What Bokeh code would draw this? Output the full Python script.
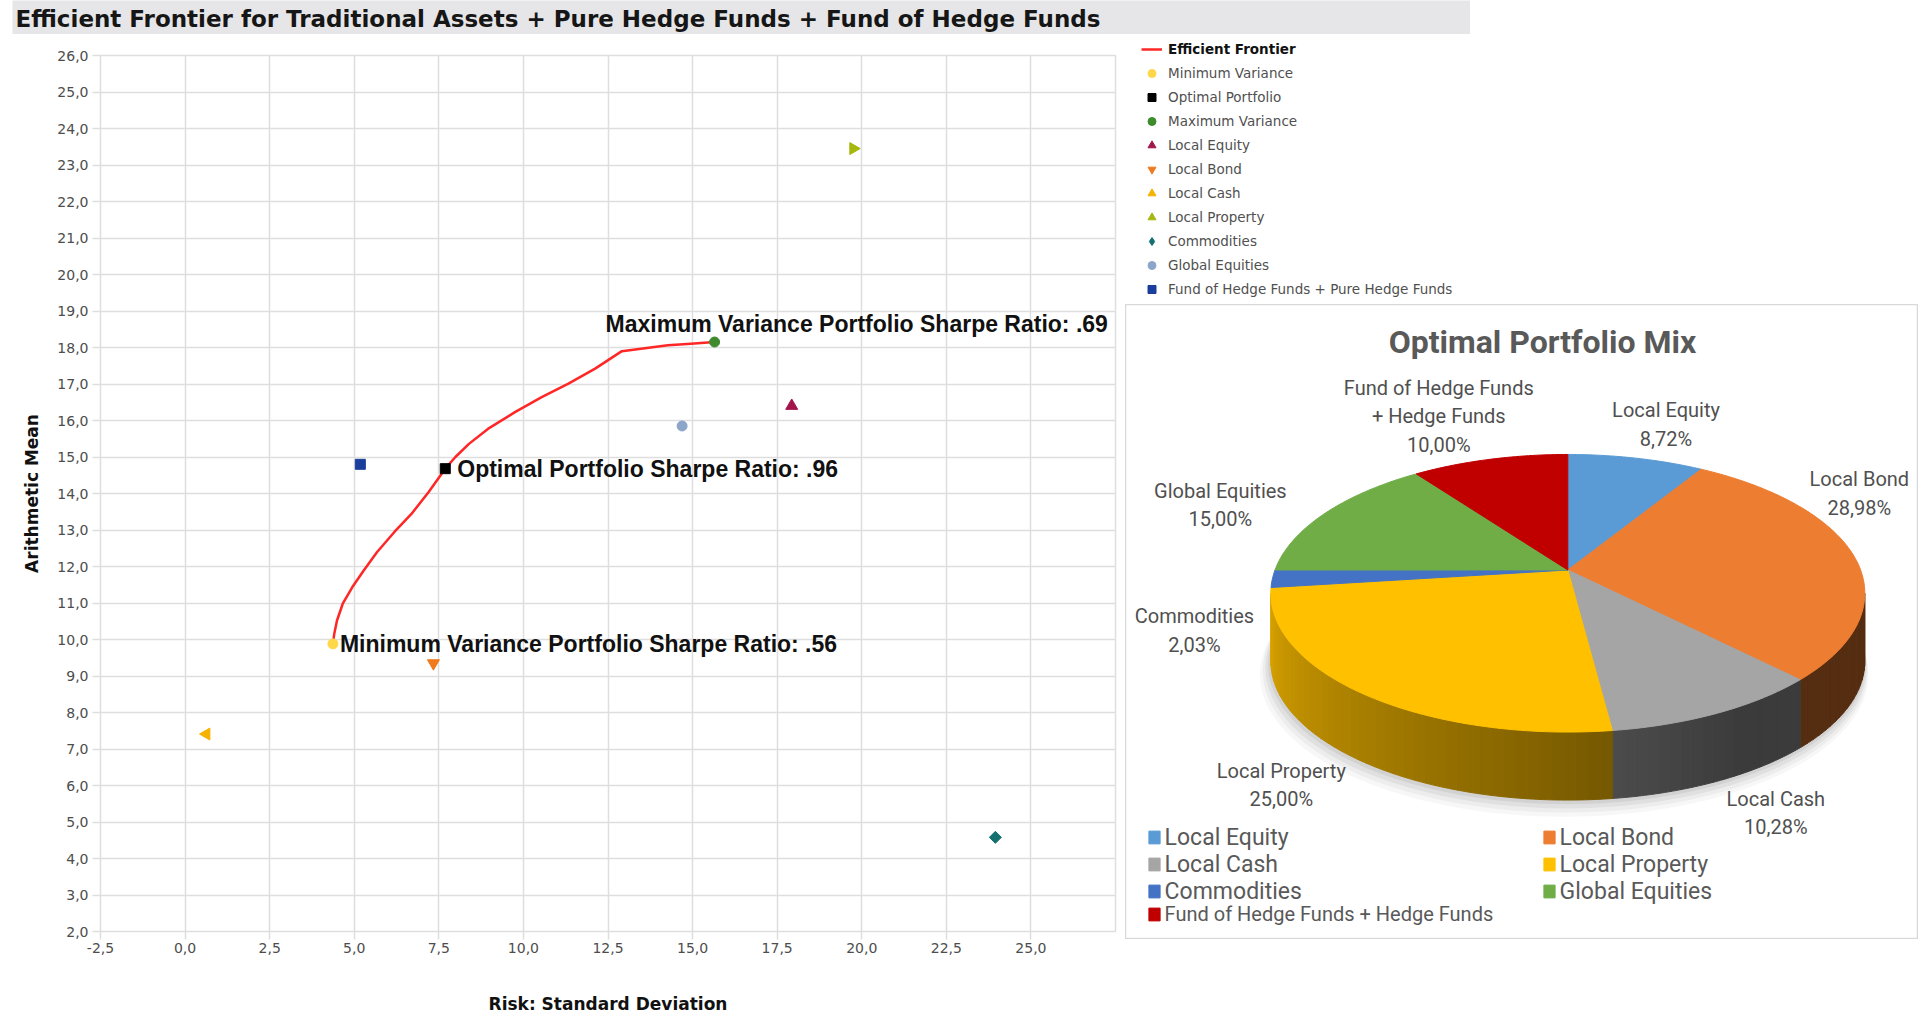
import math
from bokeh.plotting import figure
from bokeh.models import (ColumnDataSource, Legend, LegendItem, Label, Range1d,
                          FixedTicker, CustomJSTickFormatter)
from bokeh.layouts import row, column
from bokeh.embed import file_html
from bokeh.resources import INLINE
from bokeh.core.properties import value

# ---------------- data ----------------
chart_title = "Efficient Frontier for Traditional Assets + Pure Hedge Funds + Fund of Hedge Funds"
x_axis_title = "Risk: Standard Deviation"
y_axis_title = "Arithmetic Mean"

frontier_label = "Efficient Frontier"
frontier_risk = [4.37, 4.41, 4.49, 4.66, 4.94, 5.28, 5.67, 6.18, 6.69, 7.20, 7.69, 7.99,
                 8.39, 8.95, 9.75, 10.54, 11.33, 12.12, 12.91, 13.59, 14.27, 14.95, 15.65]
frontier_return = [9.88, 10.16, 10.52, 10.98, 11.43, 11.89, 12.39, 12.94, 13.44, 14.04, 14.68, 15.00,
                   15.36, 15.77, 16.23, 16.64, 17.01, 17.42, 17.90, 17.98, 18.06, 18.10, 18.15]

portfolio_names = ["Minimum Variance", "Optimal Portfolio", "Maximum Variance"]
portfolio_risk = [4.37, 7.69, 15.65]
portfolio_return = [9.88, 14.68, 18.15]
portfolio_notes = ["Minimum Variance Portfolio Sharpe Ratio: .56",
                   "Optimal Portfolio Sharpe Ratio: .96",
                   "Maximum Variance Portfolio Sharpe Ratio: .69"]

asset_names = ["Local Equity", "Local Bond", "Local Cash", "Local Property", "Commodities",
               "Global Equities", "Fund of Hedge Funds + Pure Hedge Funds"]
asset_risk = [17.93, 7.34, 0.63, 19.75, 23.95, 14.69, 5.18]
asset_return = [16.40, 9.35, 7.41, 23.45, 4.58, 15.85, 14.80]

x_ticks = [-2.5, 0.0, 2.5, 5.0, 7.5, 10.0, 12.5, 15.0, 17.5, 20.0, 22.5, 25.0]
y_ticks = [2.0, 3.0, 4.0, 5.0, 6.0, 7.0, 8.0, 9.0, 10.0, 11.0, 12.0, 13.0, 14.0, 15.0,
           16.0, 17.0, 18.0, 19.0, 20.0, 21.0, 22.0, 23.0, 24.0, 25.0, 26.0]

pie_title = "Optimal Portfolio Mix"
mix_names = ["Local Equity", "Local Bond", "Local Cash", "Local Property", "Commodities",
             "Global Equities", "Fund of Hedge Funds + Hedge Funds"]
mix_share = [8.72, 28.98, 10.28, 25.00, 2.03, 15.00, 10.00]

# ---------------- styles ----------------
GRID = "#dedede"
FRONTIER_COLOR = "#ff2626"
portfolio_style = [dict(marker="circle", color="#ffd84a", size=10, angle=0.0),
                   dict(marker="square", color="#000000", size=10, angle=0.0),
                   dict(marker="circle", color="#3d8b2c", size=10, angle=0.0)]
asset_style = [dict(marker="triangle", color="#a3144b", size=12, angle=0.0),
               dict(marker="inverted_triangle", color="#f07a1e", size=12, angle=0.0),
               dict(marker="triangle", color="#f5b300", size=12, angle=math.pi / 2),
               dict(marker="triangle", color="#a6b70e", size=12, angle=-math.pi / 2),
               dict(marker="square", color="#14706f", size=8.5, angle=math.pi / 4),
               dict(marker="circle", color="#8ca6c9", size=10, angle=0.0),
               dict(marker="square", color="#1b3e9c", size=10, angle=0.0)]
# legend swatch shapes (legend icons are not rotated)
asset_legend_marker = ["triangle", "inverted_triangle", "triangle", "triangle", "diamond",
                       "circle", "square"]
mix_colors = ["#5b9bd5", "#ed7d31", "#a5a5a5", "#ffc000", "#4472c4", "#70ad47", "#c00000"]

# ---------------- title bar ----------------
tf = figure(width=1458, height=34, x_range=Range1d(0, 1), y_range=Range1d(0, 1),
            x_axis_type=None, y_axis_type=None, toolbar_location=None, output_backend="svg",
            min_border=0, background_fill_color="#e6e6e8", border_fill_color="#e6e6e8",
            outline_line_color=None, margin=(0, 0, 0, 12))
tf.add_layout(Label(x=3, y=16, x_units="screen", y_units="screen", text=chart_title,
                    text_baseline="middle", text_font="DejaVu Sans", text_font_style="bold",
                    text_font_size="23px", text_color="#161616"))

# ---------------- scatter ----------------
p = figure(width=1125, height=984, x_range=Range1d(-2.5, 27.5), y_range=Range1d(2, 26),
           output_backend="svg", toolbar_location=None,
           min_border_left=100, min_border_right=10, min_border_top=21, min_border_bottom=87,
           x_axis_label=x_axis_title, y_axis_label=y_axis_title,
           background_fill_color="white", border_fill_color="white",
           outline_line_color=GRID, outline_line_width=1.5)
for ax in (p.xaxis[0], p.yaxis[0]):
    ax.axis_line_color = None
    ax.major_tick_line_color = GRID
    ax.major_tick_line_width = 1.5
    ax.major_tick_out = 8
    ax.major_tick_in = 0
    ax.minor_tick_line_color = None
    ax.major_label_text_font = "DejaVu Sans"
    ax.major_label_text_font_size = "14px"
    ax.major_label_text_color = "#4d4d4d"
    ax.axis_label_text_font = "DejaVu Sans"
    ax.axis_label_text_font_size = "17px"
    ax.axis_label_text_font_style = "bold"
    ax.axis_label_text_color = "#111111"
p.xaxis.ticker = FixedTicker(ticks=x_ticks)
p.yaxis.ticker = FixedTicker(ticks=y_ticks)
fmt = "return tick.toFixed(1).replace('.', ',');"
p.xaxis.formatter = CustomJSTickFormatter(code=fmt)
p.yaxis.formatter = CustomJSTickFormatter(code=fmt)
p.xaxis.major_label_standoff = 3
p.yaxis.major_label_standoff = 4
p.xaxis.axis_label_standoff = 38
p.yaxis.axis_label_standoff = 12
p.grid.grid_line_color = GRID
p.grid.grid_line_width = 1.5

p.line(x=frontier_risk, y=frontier_return, line_color=FRONTIER_COLOR, line_width=2.5,
       line_join="round")
for i, st in enumerate(portfolio_style):
    p.scatter(x=[portfolio_risk[i]], y=[portfolio_return[i]], marker=st["marker"], size=st["size"],
              fill_color=st["color"], line_color=st["color"], angle=st["angle"])
for i, st in enumerate(asset_style):
    p.scatter(x=[asset_risk[i]], y=[asset_return[i]], marker=st["marker"], size=st["size"],
              fill_color=st["color"], line_color=st["color"], angle=st["angle"])

note_offsets = [(7, 0), (12, 0), (-109, 18)]
for i, note in enumerate(portfolio_notes):
    p.add_layout(Label(x=portfolio_risk[i], y=portfolio_return[i], text=note,
                       x_offset=note_offsets[i][0], y_offset=note_offsets[i][1],
                       text_baseline="middle", text_font="Liberation Sans",
                       text_font_style="bold", text_font_size="23px", text_color="#111111"))

# ---------------- scatter legend panel ----------------
lf = figure(width=793, height=270, x_range=Range1d(0, 1), y_range=Range1d(0, 1),
            x_axis_type=None, y_axis_type=None, toolbar_location=None, output_backend="svg",
            min_border=0, outline_line_color=None)
# same series, lying outside this panel's view; only their legend swatches show
r_ef = lf.line(x=frontier_risk, y=frontier_return, line_color=FRONTIER_COLOR, line_width=2.5)
rest_items = []
for i, st in enumerate(portfolio_style):
    r = lf.scatter(x=[portfolio_risk[i]], y=[portfolio_return[i]], marker=st["marker"],
                   size=st["size"], fill_color=st["color"], line_color=st["color"])
    rest_items.append(LegendItem(label=portfolio_names[i], renderers=[r]))
for i, st in enumerate(asset_style):
    r = lf.scatter(x=[asset_risk[i]], y=[asset_return[i]], marker=asset_legend_marker[i],
                   size=st["size"], fill_color=st["color"], line_color=st["color"])
    rest_items.append(LegendItem(label=asset_names[i], renderers=[r]))

common_leg = dict(glyph_width=21, glyph_height=20, label_height=20, label_standoff=6,
                  spacing=4, padding=0, margin=0, border_line_color=None,
                  background_fill_alpha=0, label_text_font="DejaVu Sans",
                  label_text_font_size="13.5px")
leg1 = Legend(items=[LegendItem(label=frontier_label, renderers=[r_ef])], location=(16, 245),
              label_text_font_style="bold", label_text_color="#111111", **common_leg)
leg2 = Legend(items=rest_items, location=(16, 5), label_text_color="#505050", **common_leg)
lf.add_layout(leg1)
lf.add_layout(leg2)

# ---------------- pie panel ----------------
PIE_W, PIE_H = 793, 635
PIE_CX, PIE_CY = 442.3, 369.5
PIE_A, PIE_B, PIE_K = 292.8, 134.9, 0.1676
PIE_DEPTH = 68.0


def pie_point(phi, r=1.0):
    t = math.radians(phi)
    u = r * math.sin(t)
    v = -r * math.cos(t)
    w = 1.0 - PIE_K * v
    return PIE_CX + PIE_A * u / w, PIE_CY - PIE_B * v / w


def arc(a, b, r=1.0, step=1.0):
    n = max(2, int(math.ceil((b - a) / step)) + 1)
    return [pie_point(a + (b - a) * i / (n - 1), r) for i in range(n)]


def shade(c, f):
    r, g, b = int(c[1:3], 16), int(c[3:5], 16), int(c[5:7], 16)
    return "#%02x%02x%02x" % (int(r * f), int(g * f), int(b * f))


def side_factor(phi):
    return 0.36 + 0.49 * min(1.0, max(0.0, (phi - 150.0) / 110.0))


total = sum(mix_share)
bounds = []
acc = 0.0
for s in mix_share:
    a = acc / total * 360.0
    acc += s
    bounds.append((a, acc / total * 360.0))

pf = figure(width=PIE_W, height=PIE_H, x_range=Range1d(0, PIE_W), y_range=Range1d(0, PIE_H),
            x_axis_type=None, y_axis_type=None, toolbar_location=None, output_backend="svg",
            min_border=0, outline_line_color="#d9d9d9", outline_line_width=1.5)

# soft shadow
sh_xs, sh_ys, sh_a = [], [], []
for d, al in ((12, 0.03), (9, 0.04), (6, 0.05), (3, 0.06)):
    pts = arc(0, 360, r=1.0 + d * 0.002, step=3)
    sh_xs.append([x - d * 0.3 for x, y in pts])
    sh_ys.append([y - PIE_DEPTH - d for x, y in pts])
    sh_a.append(al)
pf.patches(xs="xs", ys="ys", fill_alpha="a", fill_color="black", line_color=None,
           source=ColumnDataSource(dict(xs=sh_xs, ys=sh_ys, a=sh_a)))

# sides
phi_r = math.degrees(math.acos(-PIE_K))
phi_l = 360.0 - phi_r
sd_xs, sd_ys, sd_c = [], [], []
for (a, b), col in zip(bounds, mix_colors):
    lo, hi = max(a, phi_r), min(b, phi_l)
    if hi <= lo:
        continue
    n = max(1, int(math.ceil((hi - lo) / 2.0)))
    for j in range(n):
        s0 = lo + (hi - lo) * j / n
        s1 = lo + (hi - lo) * (j + 1) / n
        top = arc(s0, s1, step=0.5)
        bot = [(x, y - PIE_DEPTH) for x, y in reversed(top)]
        pts = top + bot
        sd_xs.append([q[0] for q in pts])
        sd_ys.append([q[1] for q in pts])
        sd_c.append(shade(col, side_factor((s0 + s1) / 2)))
pf.patches(xs="xs", ys="ys", fill_color="c", line_color="c", line_width=1,
           source=ColumnDataSource(dict(xs=sd_xs, ys=sd_ys, c=sd_c)))

# top faces
tp_xs, tp_ys = [], []
for a, b in bounds:
    pts = [(PIE_CX, PIE_CY)] + arc(a, b)
    tp_xs.append([q[0] for q in pts])
    tp_ys.append([q[1] for q in pts])
r_top = pf.patches(xs="xs", ys="ys", fill_color="c", line_color="c", line_width=1,
                   source=ColumnDataSource(dict(xs=tp_xs, ys=tp_ys, c=mix_colors, name=mix_names)))

# data labels
label_offsets = [(30, -34), (6, -62), (58, 100), (-80, 92), (-78, 52), (-105, -8), (-51, -43)]
lab_x, lab_y, lab_t = [], [], []
for (a, b), name, share, (dx, dy) in zip(bounds, mix_names, mix_share, label_offsets):
    ex, ey = pie_point((a + b) / 2)
    lab_x.append(ex + dx)
    lab_y.append(ey - dy)
    lab_t.append(name.replace(" + ", "\n+ ") + "\n" + ("%.2f%%" % share).replace(".", ","))
pf.text(x="x", y="y", text="t", source=ColumnDataSource(dict(x=lab_x, y=lab_y, t=lab_t)),
        text_font=value("Roboto"), text_font_size=value("20px"), text_color="#505050",
        text_align="center", text_baseline="middle", text_line_height=1.2)

pf.add_layout(Label(x=417, y=598, text=pie_title, text_align="center", text_baseline="middle",
                    text_font="Roboto", text_font_style="bold", text_font_size="32px",
                    text_color="#595959"))

pie_leg_common = dict(glyph_width=14, glyph_height=16, label_height=27, label_standoff=4,
                      label_width=377, spacing=0, padding=0, margin=0,
                      border_line_color=None, background_fill_alpha=0,
                      label_text_font="Roboto", label_text_color="#595959")
leg_a = Legend(items=[LegendItem(label=mix_names[i], renderers=[r_top], index=i) for i in range(6)],
               location=(21.6, 34.5), orientation="horizontal", ncols=2,
               label_text_font_size="23px", **pie_leg_common)
leg_b = Legend(items=[LegendItem(label=mix_names[6], renderers=[r_top], index=6)],
               location=(21.6, 11.5), label_text_font_size="20px", **pie_leg_common)
pf.add_layout(leg_a)
pf.add_layout(leg_b)

layout = column(tf, row(p, column(lf, pf)))
open("out.html", "w").write(file_html(layout, INLINE))
